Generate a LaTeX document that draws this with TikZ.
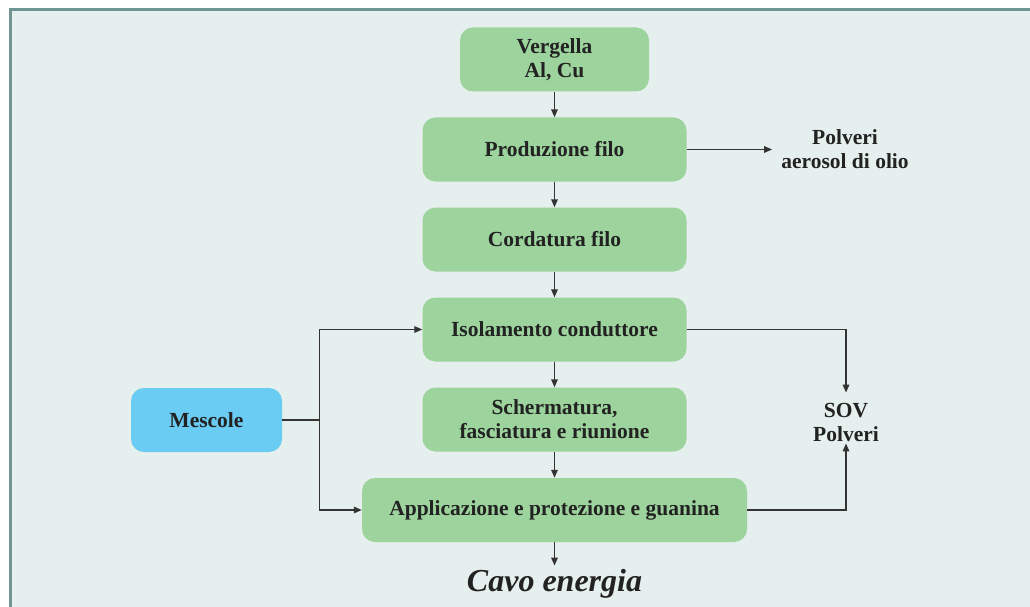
\documentclass[tikz,border=0pt]{standalone}
\usepackage{fontspec}
\setmainfont{Liberation Serif}
\usetikzlibrary{arrows.meta,calc}
\definecolor{bgc}{HTML}{E5EFED}
\definecolor{framec}{HTML}{6F9595}
\definecolor{boxg}{HTML}{9DD39D}
\definecolor{boxb}{HTML}{6ACBF3}
\definecolor{ink}{HTML}{222222}
\definecolor{linec}{HTML}{333333}
\begin{document}
\begin{tikzpicture}[x=1pt,y=-1pt,
  gbox/.style={fill=boxg, rounded corners=13pt, text=ink,
    font=\bfseries\fontsize{21.5}{24}\selectfont, align=center,
    inner sep=0pt, minimum height=64pt},
  lbl/.style={text=ink, font=\bfseries\fontsize{21.5}{24}\selectfont,
    align=center, inner sep=0pt},
  wire/.style={draw=linec, line width=1.6pt},
  conn/.style={wire, -{Triangle[length=8pt,width=6.5pt]}}]
\useasboundingbox (0,0) rectangle (1030,607);
\fill[bgc] (10,10) rectangle (1030,607);
\draw[framec, line width=3pt] (10,607) -- (10,10) -- (1030,10);

\node[gbox, minimum width=189pt] (verg) at (554.5,59.5) {Vergella\\Al, Cu};
\node[gbox, minimum width=264pt] (prod) at (554.5,149.5) {Produzione filo};
\node[gbox, minimum width=264pt] (cord) at (554.5,239.5) {Cordatura filo};
\node[gbox, minimum width=264pt] (iso) at (554.5,329.5) {Isolamento conduttore};
\node[gbox, minimum width=264pt] (sch) at (554.5,419.5) {Schermatura,\\fasciatura e riunione};
\node[gbox, minimum width=385pt] (app) at (554.5,510) {Applicazione e protezione e guanina};
\node[gbox, fill=boxb, minimum width=151pt] (mes) at (206.5,420) {Mescole};

\node[lbl, inner xsep=9pt] (polv) at (845,149.5) {Polveri\\aerosol di olio};
\node[lbl] (sov) at (846,422) {SOV\\Polveri};
\node[lbl, font=\bfseries\itshape\fontsize{32}{32}\selectfont, anchor=base] (cavo) at (554.5,591) {Cavo energia};

\draw[conn] (verg.south) -- (prod.north);
\draw[conn] (prod.south) -- (cord.north);
\draw[conn] (cord.south) -- (iso.north);
\draw[conn] (iso.south) -- (sch.north);
\draw[conn] (sch.south) -- (app.north);
\draw[conn] (app.south) -- ($(cavo.north)+(0,-3)$);
\draw[conn] (prod.east) -- (polv.west);

\coordinate (j) at (319.5,420);
\draw[wire] (mes.east) -- (j);
\draw[conn] (j) |- (iso.west);
\draw[conn] (j) |- (app.west);

\draw[conn] (iso.east) -| ($(sov.north)+(0,-10)$);
\draw[conn] (app.east) -| ($(sov.south)+(0,2)$);
\end{tikzpicture}
\end{document}
